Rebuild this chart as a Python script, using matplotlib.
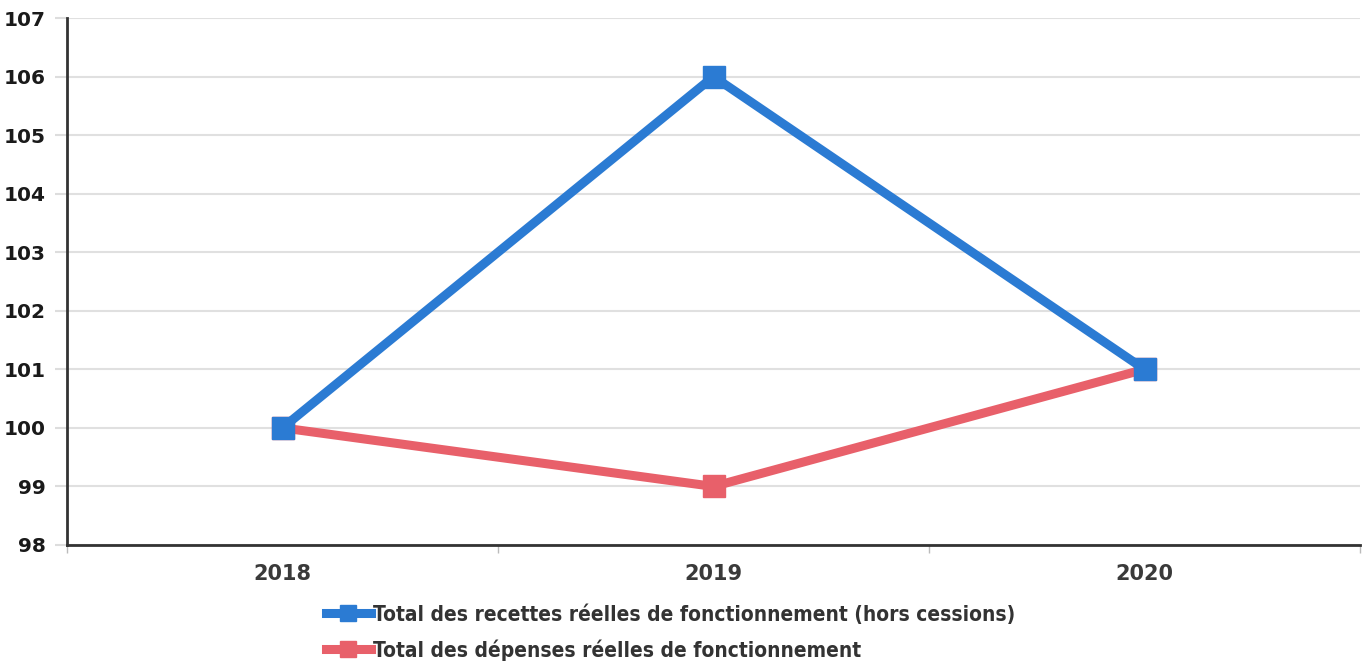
import matplotlib.pyplot as plt
from matplotlib.font_manager import FontProperties
from matplotlib.ticker import FixedLocator, MultipleLocator

years = ['2018', '2019', '2020']
recettes = [100, 106, 101]
depenses = [100, 99, 101]

fig = plt.figure(figsize=(13.64, 6.72), dpi=100)
ax = fig.add_axes([67 / 1364, 1 - 545 / 672, (1360 - 67) / 1364, (545 - 18) / 672])

x = list(range(len(years)))
ax.plot(x, depenses, color='#e8606a', lw=6.5, marker='s', ms=16,
        label='Total des dépenses réelles de fonctionnement', zorder=3)
ax.plot(x, recettes, color='#2b7bd3', lw=6.5, marker='s', ms=16,
        label='Total des recettes réelles de fonctionnement (hors cessions)', zorder=4)

ax.set_xlim(-0.5, 2.5)
ax.set_ylim(98, 107)
ax.yaxis.set_major_locator(MultipleLocator(1))
ax.set_xticks(x)
ax.set_xticklabels(years)
ax.xaxis.set_minor_locator(FixedLocator([-0.5, 0.5, 1.5, 2.5]))
ax.tick_params(axis='x', which='major', length=0, pad=14, labelsize=15, labelcolor='#3a3a3a')
ax.tick_params(axis='x', which='minor', length=6, color='#bbbbbb', width=1)
ax.tick_params(axis='y', length=9, color='#dddddd', width=1.5, pad=6, labelsize=14.5, labelcolor='#1a1a1a')
for lbl in ax.get_yticklabels() + ax.get_xticklabels():
    lbl.set_fontweight('bold')

ax.grid(axis='y', color='#e0e0e0', lw=1.5)
ax.set_axisbelow(True)
for s in ['top', 'right']:
    ax.spines[s].set_visible(False)
for s in ['left', 'bottom']:
    ax.spines[s].set_linewidth(2)
    ax.spines[s].set_color('#333333')

# legend under the plot, recettes first
legend_font = FontProperties(family='DejaVu Sans', size=15, weight='bold', stretch='condensed')
h, l = ax.get_legend_handles_labels()
leg = fig.legend(h[::-1], l[::-1], loc='lower left', bbox_to_anchor=(0.228, -0.005),
                 frameon=False, handlelength=2.2, handletextpad=0.1,
                 labelspacing=0.7, markerscale=0.75, borderaxespad=0.3,
                 prop=legend_font)
for t in leg.get_texts():
    t.set_color('#333333')

fig.savefig('out.png', dpi=100)
